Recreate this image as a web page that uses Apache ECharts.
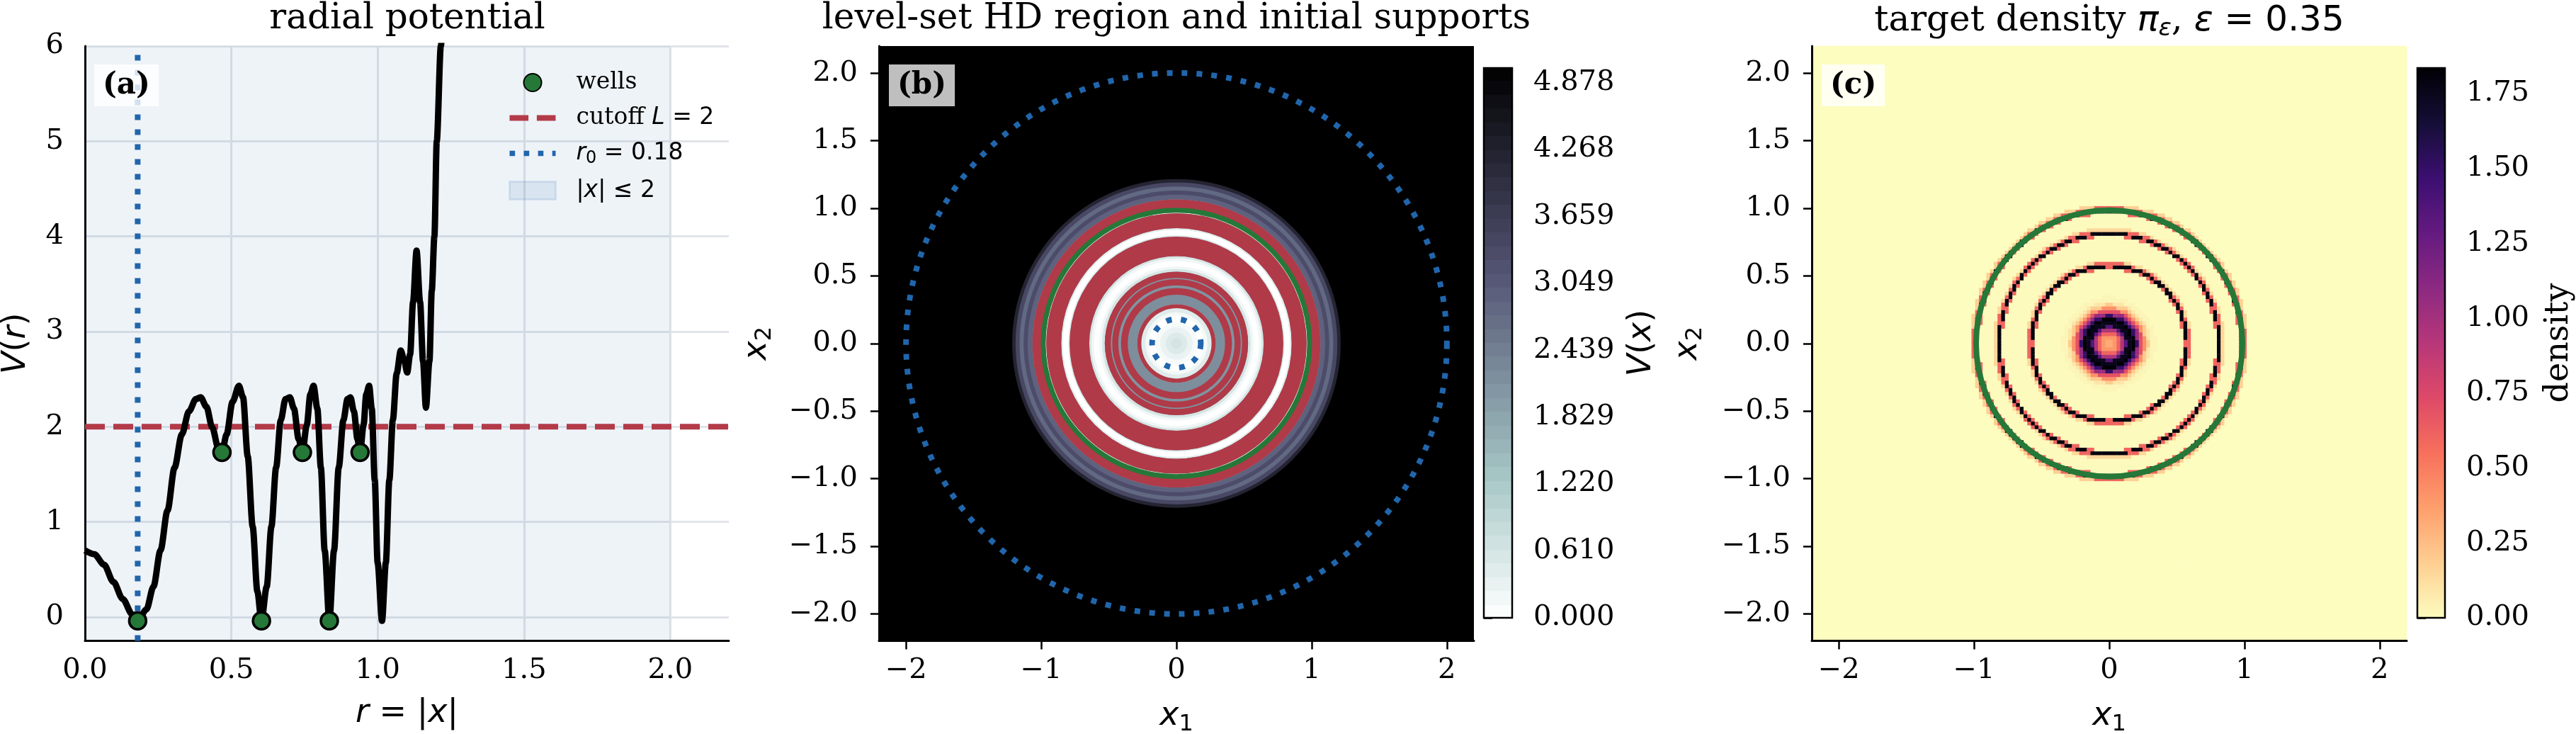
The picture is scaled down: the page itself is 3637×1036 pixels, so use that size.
<!DOCTYPE html>
<html>
<head>
<meta charset="utf-8">
<script src="https://cdn.jsdelivr.net/npm/echarts@6/dist/echarts.min.js"></script>
<style>
  html, body { margin: 0; padding: 0; background: #fff; }
  #chart { width: 3637px; height: 1036px; }
</style>
</head>
<body>
<div id="chart"></div>
<script>
// ---- panel (a): radial potential ----
const radius = [0.000, 0.032, 0.065, 0.097, 0.129, 0.161, 0.180, 0.210, 0.234, 0.258, 0.282, 0.306,
  0.331, 0.355, 0.379, 0.395, 0.415, 0.435, 0.456, 0.468, 0.484, 0.504, 0.526, 0.540, 0.556, 0.573,
  0.589, 0.603, 0.621, 0.637, 0.653, 0.669, 0.685, 0.700, 0.714, 0.730, 0.743, 0.758, 0.770, 0.781,
  0.794, 0.806, 0.819, 0.835, 0.851, 0.867, 0.883, 0.897, 0.907, 0.919, 0.931, 0.940, 0.952, 0.961,
  0.971, 0.980, 0.990, 1.000, 1.015, 1.028, 1.040, 1.052, 1.065, 1.079, 1.090, 1.101, 1.111, 1.121,
  1.133, 1.145, 1.155, 1.165, 1.177, 1.185, 1.194, 1.202, 1.216, 1.230];
const potential = [0.70, 0.66, 0.55, 0.37, 0.19, 0.03, -0.04, 0.08, 0.32, 0.70, 1.12, 1.57,
  1.92, 2.16, 2.29, 2.31, 2.21, 1.99, 1.77, 1.73, 1.92, 2.26, 2.43, 2.31, 1.69, 0.95,
  0.27, -0.04, 0.32, 0.95, 1.57, 2.07, 2.29, 2.31, 2.19, 1.87, 1.73, 2.02, 2.34, 2.43,
  2.19, 1.57, 0.70, -0.04, 0.70, 1.57, 2.07, 2.29, 2.31, 2.16, 1.87, 1.73, 2.02, 2.34,
  2.43, 2.19, 1.44, 0.57, -0.04, 0.57, 1.44, 2.07, 2.56, 2.80, 2.71, 2.57, 2.76, 3.31,
  3.85, 3.31, 2.69, 2.20, 2.69, 3.43, 4.00, 5.00, 6.00, 7.00];
const wellR = [0.18, 0.468, 0.603, 0.743, 0.835, 0.94];
const wellV = [-0.04, 1.73, -0.04, 1.73, -0.04, 1.73];
const cutoffL = 2;
const r0 = 0.18;
const boxR = 2;
const supportR = 0.985;

// ---- panel (b): V(x) bands (inner radius, outer radius, value) ----
const bandIn  = [0.00, 0.04, 0.08, 0.12, 0.155, 0.205, 0.23, 0.26, 0.29, 0.36, 0.41, 0.43, 0.475, 0.485,
  0.53, 0.55, 0.57, 0.61, 0.63, 0.645, 0.79, 0.80, 0.84, 0.852, 0.963, 0.985, 1.065, 1.10, 1.13, 1.16, 1.19, 1.215];
const bandOut = [0.04, 0.08, 0.12, 0.155, 0.205, 0.23, 0.26, 0.29, 0.36, 0.41, 0.43, 0.475, 0.485, 0.53,
  0.55, 0.57, 0.61, 0.63, 0.645, 0.79, 0.80, 0.84, 0.852, 0.963, 0.985, 1.065, 1.10, 1.13, 1.16, 1.19, 1.215, 3.2];
const bandV   = [0.62, 0.48, 0.30, 0.12, 0.00, 0.15, 0.45, 1.10, 2.20, 2.30, 2.10, 2.30, 2.10, 2.00,
  0.60, 0.20, 0.00, 0.20, 0.60, 2.00, 0.50, 0.00, 0.40, 2.00, 0.10, 2.00, 2.90, 3.30, 2.80, 3.40, 4.20, 5.00];
// level-set HD region (red annuli)
const hdIn  = [0.26, 0.36, 0.43, 0.485, 0.645, 0.852, 0.985];
const hdOut = [0.29, 0.41, 0.475, 0.53, 0.79, 0.963, 1.065];

// ---- panel (c): target density, radial bins (outer edge, value) ----
const densOuter = [0.03, 0.06, 0.09, 0.11, 0.13, 0.16, 0.19, 0.21, 0.23, 0.25, 0.27, 0.29, 0.31, 0.35,
  0.550, 0.565, 0.587, 0.600, 0.615, 0.790, 0.803, 0.825, 0.838, 0.853, 0.960, 0.974, 0.996, 1.010, 1.030, 5.0];
const densVal = [0.32, 0.40, 0.60, 0.95, 1.35, 1.75, 1.83, 1.50, 1.05, 0.70, 0.42, 0.20, 0.09, 0.03,
  0.012, 0.60, 1.80, 0.60, 0.15, 0.012, 0.60, 1.80, 0.60, 0.15, 0.012, 0.60, 1.75, 0.60, 0.18, 0];

// ticks
const xTicksA = [0, 0.5, 1, 1.5, 2];
const yTicksA = [0, 1, 2, 3, 4, 5, 6];
const planeX = [-2, -1, 0, 1, 2];
const planeY = [-2, -1.5, -1, -0.5, 0, 0.5, 1, 1.5, 2];
const vTicks = [0, 0.610, 1.220, 1.829, 2.439, 3.049, 3.659, 4.268, 4.878];
const densTicks = [0, 0.25, 0.5, 0.75, 1, 1.25, 1.5, 1.75];
const vMax = 5.01;
const densMax = 1.835;
const vLevels = 40; // filled-contour steps in the V(x) colour bar

// colour maps
const boneR = ['#ffffff', '#d3e4e3', '#a8c8c7', '#8ba2ab', '#6f7b8f', '#545474', '#38384e', '#1c1c27', '#000000'];
const magmaR = ['#fcfdbf', '#fecf92', '#fe9f6d', '#f7705c', '#de4968', '#b73779', '#8c2981', '#641a80', '#3b0f70', '#140e36', '#000004'];

const SERIF = 'DejaVu Serif';
const SANS = 'DejaVu Sans';
const BLUE = '#2166ac';
const GREEN = '#267838';
const RED = '#b33a48';

const chart = echarts.init(document.getElementById('chart'));

// heatmap cells for panel (c)
const cells = 160, half = 2.2, step = 2 * half / cells;
const cellIdx = Array.from({ length: cells }, (_, i) => i);
const heatData = [];
for (let i = 0; i < cells; i++) {
  for (let j = 0; j < cells; j++) {
    const x = -half + (i + 0.5) * step;
    const y = -half + (j + 0.5) * step;
    const r = Math.hypot(x, y);
    let k = 0;
    while (k < densOuter.length - 1 && r >= densOuter[k]) k++;
    heatData.push([i, j, densVal[k]]);
  }
}

const minusFmt = d => v => (v < 0 ? '\u2212' : '') + Math.abs(v).toFixed(d);
const labelStyle = { fontFamily: SERIF, fontSize: 40, color: '#000' };
const mathRich = {
  i: { fontFamily: SANS, fontStyle: 'italic', fontSize: 46, color: '#000' },
  n: { fontFamily: SANS, fontSize: 46, color: '#000' },
  s: { fontFamily: SANS, fontSize: 32, color: '#000', padding: [22, 0, 0, 0] },
  t: { fontFamily: SERIF, fontSize: 46, color: '#000' }
};

function planeAxis(idx, dim, ticks, fmt, name, gap) {
  return {
    type: 'value', gridIndex: idx, min: -2.2, max: 2.2, z: 10,
    axisLine: { show: true, onZero: false, lineStyle: { color: '#000', width: 3 } },
    axisTick: { show: true, length: 12, customValues: ticks, lineStyle: { color: '#000', width: 2.5 } },
    axisLabel: Object.assign({ customValues: ticks, formatter: fmt, margin: dim === 'x' ? 22 : 30 }, labelStyle),
    splitLine: { show: false },
    name: name, nameLocation: 'middle', nameGap: gap, nameRotate: dim === 'y' ? 90 : 0,
    nameTextStyle: { rich: mathRich }
  };
}

function ringItem(params, api) {
  const c = api.coord([0, 0]);
  return {
    type: 'ring',
    shape: { cx: c[0], cy: c[1], r0: api.size([api.value(0), 0])[0], r: api.size([api.value(1), 0])[0] },
    style: { fill: '#b03a48' }
  };
}
function discItem(params, api) {
  const c = api.coord([0, 0]);
  return {
    type: 'circle',
    shape: { cx: c[0], cy: c[1], r: api.size([api.value(1), 0])[0] },
    style: { fill: api.visual('color') }
  };
}
function circleItem(style) {
  return function (params, api) {
    const c = api.coord([0, 0]);
    return {
      type: 'circle',
      shape: { cx: c[0], cy: c[1], r: api.size([api.value(0), 0])[0] },
      style: Object.assign({ fill: 'none' }, style)
    };
  };
}
// smooth or stepped gradient for a colour bar
function barStops(colors, levels) {
  if (!levels) return colors.map((c, k) => ({ offset: k / (colors.length - 1), color: c }));
  const stops = [];
  for (let k = 0; k < levels; k++) {
    const c = echarts.color.lerp((k + 0.5) / levels, colors);
    stops.push({ offset: k / levels, color: c }, { offset: (k + 1) / levels, color: c });
  }
  return stops;
}
function colorbarItem(vmax, colors, levels) {
  return function (params, api) {
    const p0 = api.coord([0, 0]);
    const p1 = api.coord([1, vmax]);
    return {
      type: 'rect',
      shape: { x: p0[0], y: p1[1], width: p1[0] - p0[0], height: p0[1] - p1[1] },
      style: { fill: new echarts.graphic.LinearGradient(0, 1, 0, 0, barStops(colors, levels)), stroke: '#000', lineWidth: 2.5 }
    };
  };
}

const bandData = bandIn.map((r, k) => [r, bandOut[k], bandV[k]]).reverse();
const hdData = hdIn.map((r, k) => [r, hdOut[k]]);

function titleText(x, text, rich) {
  return {
    type: 'text', x: x, y: 2,
    style: { text: text, fontFamily: SERIF, fontSize: 50, fill: '#000', align: 'center', verticalAlign: 'top', rich: rich }
  };
}
function panelTag(x, text, bg) {
  return {
    type: 'text', x: x, y: 91, z: 100,
    style: { text: text, fontFamily: SERIF, fontWeight: 'bold', fontSize: 42, fill: '#000', backgroundColor: bg, padding: [9, 12, 8, 12] }
  };
}
function gridBox(left, top, width, height) {
  return { left: left, top: top, width: width, height: height, containLabel: false, outerBoundsMode: 'none' };
}

const option = {
  animation: false,
  backgroundColor: '#fff',
  grid: [
    gridBox(120, 65, 909, 839.5),
    gridBox(1241, 65, 840, 839.5),
    gridBox(2095, 96, 40, 776),
    gridBox(2558, 65, 840, 839.5),
    gridBox(3413, 96, 39, 776),
    gridBox(2558, 65, 840, 839.5)
  ],
  xAxis: [
    {
      type: 'value', gridIndex: 0, min: 0, max: 2.2,
      axisLine: { onZero: false, lineStyle: { color: '#000', width: 3 } },
      axisTick: { show: false, customValues: xTicksA },
      axisLabel: Object.assign({ customValues: xTicksA, formatter: v => v.toFixed(1), margin: 22 }, labelStyle),
      splitLine: { show: true, lineStyle: { color: '#e1e4e9', width: 3 } },
      name: '{i|r}{n| = |}{i|x}{n||}', nameLocation: 'middle', nameGap: 80,
      nameTextStyle: { rich: mathRich }
    },
    planeAxis(1, 'x', planeX, minusFmt(0), '{i|x}{s|1}', 80),
    { type: 'value', gridIndex: 2, min: 0, max: 1, show: false },
    planeAxis(3, 'x', planeX, minusFmt(0), '{i|x}{s|1}', 80),
    { type: 'value', gridIndex: 4, min: 0, max: 1, show: false },
    { type: 'category', gridIndex: 5, data: cellIdx, show: false }
  ],
  yAxis: [
    {
      type: 'value', gridIndex: 0, min: -0.25, max: 6,
      axisLine: { show: true, onZero: false, lineStyle: { color: '#000', width: 3 } },
      axisTick: { show: false, customValues: yTicksA },
      axisLabel: Object.assign({ customValues: yTicksA, formatter: v => String(v), margin: 30 }, labelStyle),
      splitLine: { show: true, lineStyle: { color: '#e1e4e9', width: 3 } },
      name: '{i|V}{n|(}{i|r}{n|)}', nameLocation: 'middle', nameGap: 74, nameRotate: 90,
      nameTextStyle: { rich: mathRich }
    },
    planeAxis(1, 'y', planeY, minusFmt(1), '{i|x}{s|2}', 145),
    {
      type: 'value', gridIndex: 2, min: 0, max: vMax, position: 'right',
      axisLine: { show: false },
      axisTick: { show: true, length: 12, customValues: vTicks, lineStyle: { color: '#000', width: 2.5 } },
      axisLabel: Object.assign({ customValues: vTicks, formatter: v => v.toFixed(3), margin: 30 }, labelStyle),
      splitLine: { show: false },
      name: '{i|V}{n|(}{i|x}{n|)}', nameLocation: 'middle', nameGap: 160, nameRotate: 90,
      nameTextStyle: { rich: mathRich }
    },
    planeAxis(3, 'y', planeY, minusFmt(1), '{i|x}{s|2}', 148),
    {
      type: 'value', gridIndex: 4, min: 0, max: densMax, position: 'right',
      axisLine: { show: false },
      axisTick: { show: true, length: 12, customValues: densTicks, lineStyle: { color: '#000', width: 2.5 } },
      axisLabel: Object.assign({ customValues: densTicks, formatter: v => v.toFixed(2), margin: 30 }, labelStyle),
      splitLine: { show: false },
      name: 'density', nameLocation: 'middle', nameGap: 138, nameRotate: 90,
      nameTextStyle: { fontFamily: SERIF, fontSize: 46, color: '#000' }
    },
    { type: 'category', gridIndex: 5, data: cellIdx, show: false }
  ],
  visualMap: [
    { type: 'continuous', show: false, seriesIndex: 5, dimension: 2, min: 0, max: vMax, inRange: { color: boneR } },
    { type: 'continuous', show: false, seriesIndex: 10, dimension: 2, min: 0, max: densMax, inRange: { color: magmaR } }
  ],
  legend: {
    left: 713, top: 95, orient: 'vertical', itemWidth: 65, itemHeight: 25, itemGap: 17,
    selectedMode: false,
    data: [
      { name: 'wells', icon: 'circle' },
      { name: 'cutoff', icon: 'path://M0,0H27V8H0Z M39,0H66V8H39Z', itemStyle: { color: RED } },
      { name: 'r0', icon: 'path://M0,0H8V8H0Z M21,0H29V8H21Z M42,0H50V8H42Z M63,0H68V8H63Z', itemStyle: { color: BLUE } },
      { name: 'span', icon: 'rect', itemStyle: { color: 'rgba(33,102,172,0.10)', borderColor: 'rgba(33,102,172,0.12)', borderWidth: 3 } }
    ],
    formatter: name => ({
      wells: 'wells',
      cutoff: 'cutoff {m|L} {n|= 2}',
      r0: '{m|r}{s|0} {n|= 0.18}',
      span: '{n||}{m|x}{n|| \u2264 2}'
    })[name],
    textStyle: {
      fontFamily: SERIF, fontSize: 33, color: '#000', lineHeight: 33, padding: [0, 0, 0, 24],
      rich: {
        m: { fontFamily: SANS, fontStyle: 'italic', fontSize: 33, color: '#000' },
        n: { fontFamily: SANS, fontSize: 33, color: '#000' },
        s: { fontFamily: SANS, fontSize: 24, color: '#000', padding: [14, 0, 0, 0] }
      }
    }
  },
  graphic: [
    titleText(575, 'radial potential'),
    titleText(1661, 'level-set HD region and initial supports'),
    titleText(2978, '{t|target density }{m|\u03c0}{s|\u03b5}{t|, }{m|\u03b5}{n| = 0.35}', {
      t: { fontFamily: SERIF, fontSize: 50, fill: '#000' },
      m: { fontFamily: SANS, fontStyle: 'italic', fontSize: 50, fill: '#000' },
      s: { fontFamily: SANS, fontStyle: 'italic', fontSize: 34, fill: '#000', padding: [22, 0, 0, 0] },
      n: { fontFamily: SANS, fontSize: 50, fill: '#000' }
    }),
    panelTag(133, '(a)', 'rgba(255,255,255,0.8)'),
    panelTag(1255, '(b)', 'rgba(255,255,255,0.75)'),
    panelTag(2572, '(c)', 'rgba(255,255,255,0.8)')
  ],
  series: [
    // 0: |x| <= 2 span
    {
      name: 'span', type: 'custom', xAxisIndex: 0, yAxisIndex: 0, silent: true, z: 1,
      itemStyle: { color: 'rgba(33,102,172,0.08)' },
      data: [[0, boxR]],
      renderItem: (params, api) => {
        const p0 = api.coord([api.value(0), 6]);
        const p1 = api.coord([api.value(1), -0.25]);
        return { type: 'rect', shape: { x: p0[0], y: p0[1], width: p1[0] - p0[0], height: p1[1] - p0[1] }, style: { fill: 'rgba(33,102,172,0.08)' } };
      }
    },
    // 1: r0 marker line
    {
      name: 'r0', type: 'line', xAxisIndex: 0, yAxisIndex: 0, symbol: 'none', silent: true, z: 3,
      data: [[r0, -0.25], [r0, 6]],
      lineStyle: { color: BLUE, width: 8, type: [8, 13], cap: 'butt' }, itemStyle: { color: BLUE }
    },
    // 2: cutoff
    {
      name: 'cutoff', type: 'line', xAxisIndex: 0, yAxisIndex: 0, symbol: 'none', silent: true, z: 3,
      data: [[0, cutoffL], [2.2, cutoffL]],
      lineStyle: { color: RED, width: 8, type: [28, 12], cap: 'butt' }, itemStyle: { color: RED }
    },
    // 3: V(r)
    {
      name: 'V', type: 'line', xAxisIndex: 0, yAxisIndex: 0, symbol: 'none', silent: true, z: 4,
      smooth: 0.3, smoothMonotone: 'x',
      data: radius.map((r, k) => [r, potential[k]]),
      lineStyle: { color: '#000', width: 9 }
    },
    // 4: wells
    {
      name: 'wells', type: 'scatter', xAxisIndex: 0, yAxisIndex: 0, silent: true, z: 5,
      symbolSize: 24,
      data: wellR.map((r, k) => [r, wellV[k]]),
      itemStyle: { color: GREEN, borderColor: '#000', borderWidth: 3.5, opacity: 1 }
    },
    // 5: V(x) bands, panel (b)
    {
      type: 'custom', xAxisIndex: 1, yAxisIndex: 1, silent: true, clip: true, z: 1,
      data: bandData, renderItem: discItem
    },
    // 6: HD region
    {
      type: 'custom', xAxisIndex: 1, yAxisIndex: 1, silent: true, clip: true, z: 2,
      data: hdData, renderItem: ringItem
    },
    // 7, 8: circles in (b)
    {
      type: 'custom', xAxisIndex: 1, yAxisIndex: 1, silent: true, clip: true, z: 3,
      data: [[boxR], [r0]],
      renderItem: circleItem({ stroke: BLUE, lineWidth: 8, lineDash: [8, 13] })
    },
    {
      type: 'custom', xAxisIndex: 1, yAxisIndex: 1, silent: true, clip: true, z: 3,
      data: [[supportR]],
      renderItem: circleItem({ stroke: GREEN, lineWidth: 7 })
    },
    // 9: colorbar (b)
    {
      type: 'custom', xAxisIndex: 2, yAxisIndex: 2, silent: true,
      data: [[0, vMax]], renderItem: colorbarItem(vMax, boneR, vLevels)
    },
    // 10: density heatmap, panel (c)
    {
      type: 'heatmap', xAxisIndex: 5, yAxisIndex: 5, silent: true, progressive: 0,
      data: heatData
    },
    // 11: support circle (c)
    {
      type: 'custom', xAxisIndex: 3, yAxisIndex: 3, silent: true, clip: true, z: 5,
      data: [[supportR]],
      renderItem: circleItem({ stroke: GREEN, lineWidth: 8 })
    },
    // 12: colorbar (c)
    {
      type: 'custom', xAxisIndex: 4, yAxisIndex: 4, silent: true,
      data: [[0, densMax]], renderItem: colorbarItem(densMax, magmaR, 0)
    }
  ]
};

chart.setOption(option);
</script>
</body>
</html>
